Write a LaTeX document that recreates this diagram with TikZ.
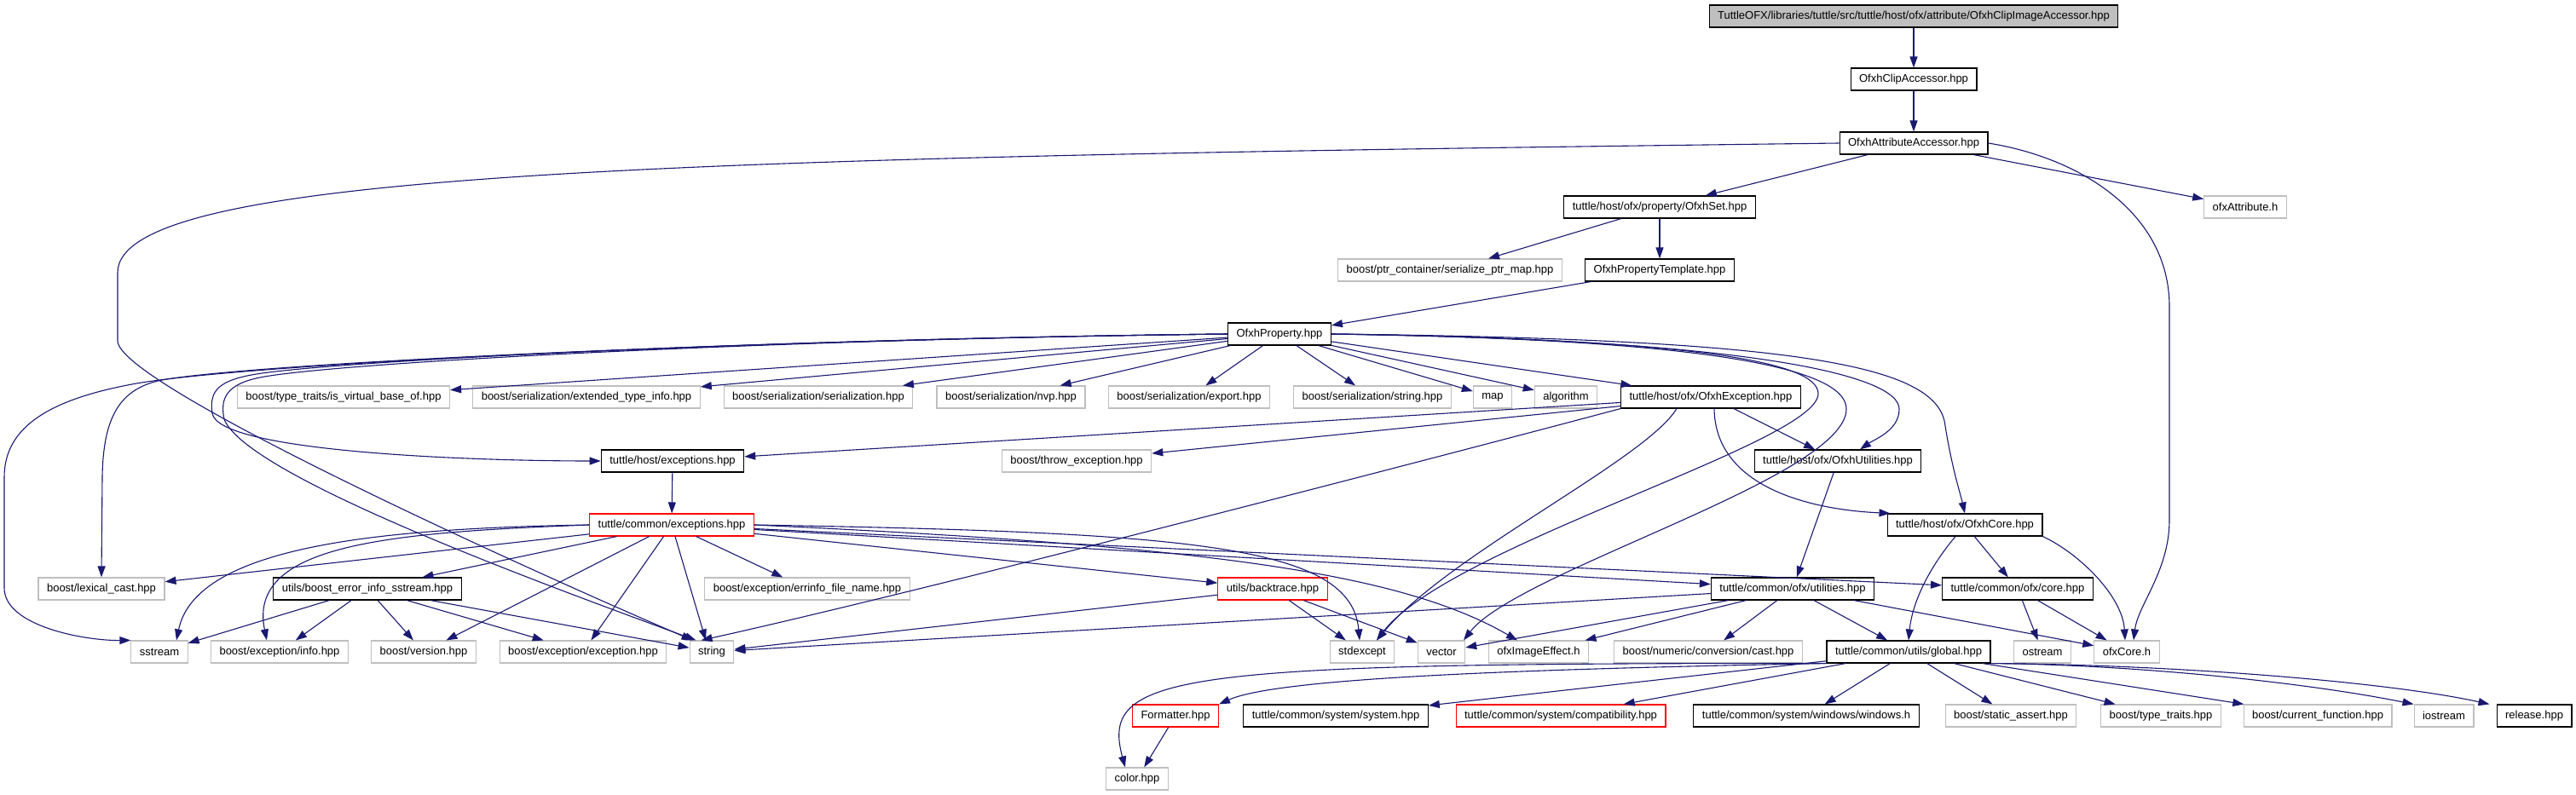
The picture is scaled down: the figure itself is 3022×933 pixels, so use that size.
\documentclass[tikz,border=0pt]{standalone}
\usepackage{fontspec}
\setmainfont{Liberation Sans}
\usetikzlibrary{arrows.meta}
\definecolor{edgecol}{HTML}{191970}
\definecolor{graybd}{HTML}{BFBFBF}
\definecolor{rootfill}{HTML}{BFBFBF}
\begin{document}
\begin{tikzpicture}[x=1pt,y=-1pt,
  nb/.style={draw=black,fill=white,line width=1.1pt,minimum height=26pt,inner xsep=10pt,inner ysep=0pt,font=\fontsize{13}{15}\selectfont},
  ng/.style={nb,draw=graybd},
  nr/.style={nb,draw=red},
  edge/.style={draw=edgecol,line width=1.1pt,-{Triangle[length=13pt,width=9pt]}}]
\useasboundingbox (0,0) rectangle (3022,933);
% row 0-5
\node[nb,fill=rootfill] (root) at (2245,19) {TuttleOFX/libraries/tuttle/src/tuttle/host/ofx/attribute/OfxhClipImageAccessor.hpp};
\node[nb] (clip) at (2245,93) {OfxhClipAccessor.hpp};
\node[nb] (aa) at (2245,168) {OfxhAttributeAccessor.hpp};
\node[nb] (set) at (1947,243) {tuttle/host/ofx/property/OfxhSet.hpp};
\node[ng] (ofxattr) at (2634,243) {ofxAttribute.h};
\node[ng] (ptrmap) at (1701,317) {boost/ptr\_container/serialize\_ptr\_map.hpp};
\node[nb] (ptmpl) at (1947,317) {OfxhPropertyTemplate.hpp};
\node[nb] (prop) at (1501,392) {OfxhProperty.hpp};
% row 6
\node[ng] (isvb) at (403,466) {boost/type\_traits/is\_virtual\_base\_of.hpp};
\node[ng] (exti) at (688,466) {boost/serialization/extended\_type\_info.hpp};
\node[ng] (ser) at (960,466) {boost/serialization/serialization.hpp};
\node[ng] (nvp) at (1186,466) {boost/serialization/nvp.hpp};
\node[ng] (exp) at (1395,466) {boost/serialization/export.hpp};
\node[ng] (sstr) at (1610,466) {boost/serialization/string.hpp};
\node[ng] (map) at (1751,466) {map};
\node[ng] (algo) at (1837,466) {algorithm};
\node[nb] (ofxhexc) at (2007,466) {tuttle/host/ofx/OfxhException.hpp};
% row 7
\node[nb] (hexc) at (789,541) {tuttle/host/exceptions.hpp};
\node[ng] (throw) at (1263,541) {boost/throw\_exception.hpp};
\node[nb] (ofxhutil) at (2156,541) {tuttle/host/ofx/OfxhUtilities.hpp};
% row 8
\node[nr] (cexc) at (788,616) {tuttle/common/exceptions.hpp};
\node[nb] (ofxhcore) at (2305,616) {tuttle/host/ofx/OfxhCore.hpp};
% row 9
\node[ng] (lex) at (119,691) {boost/lexical\_cast.hpp};
\node[nb] (bei) at (431,691) {utils/boost\_error\_info\_sstream.hpp};
\node[ng] (errinfo) at (947,691) {boost/exception/errinfo\_file\_name.hpp};
\node[nr] (bt) at (1493,691) {utils/backtrace.hpp};
\node[nb] (cutil) at (2103,691) {tuttle/common/ofx/utilities.hpp};
\node[nb] (ccore) at (2367,691) {tuttle/common/ofx/core.hpp};
% row 10
\node[ng] (sstream) at (187,765) {sstream};
\node[ng] (info) at (328,765) {boost/exception/info.hpp};
\node[ng] (ver) at (497,765) {boost/version.hpp};
\node[ng] (bexc) at (684,765) {boost/exception/exception.hpp};
\node[ng] (str) at (835,765) {string};
\node[ng] (stdexc) at (1598,765) {stdexcept};
\node[ng] (vec) at (1691,765) {vector};
\node[ng] (ofxie) at (1805,765) {ofxImageEffect.h};
\node[ng] (numcast) at (2004,765) {boost/numeric/conversion/cast.hpp};
\node[nb] (glob) at (2239,765) {tuttle/common/utils/global.hpp};
\node[ng] (ostream) at (2396,765) {ostream};
\node[ng] (ofxcore) at (2495,765) {ofxCore.h};
% row 11
\node[nr] (fmt) at (1379,840) {Formatter.hpp};
\node[nb] (sys) at (1567,840) {tuttle/common/system/system.hpp};
\node[nr] (compat) at (1831,840) {tuttle/common/system/compatibility.hpp};
\node[nb] (win) at (2119,840) {tuttle/common/system/windows/windows.h};
\node[ng] (sassert) at (2359,840) {boost/static\_assert.hpp};
\node[ng] (ttraits) at (2535,840) {boost/type\_traits.hpp};
\node[ng] (curfn) at (2719,840) {boost/current\_function.hpp};
\node[ng] (iostr) at (2867,840) {iostream};
\node[nb] (rel) at (2973,840) {release.hpp};
% row 12
\node[ng] (color) at (1334,914) {color.hpp};

% edges top
\draw[edge] (root) -- (clip);
\draw[edge] (clip) -- (aa);
\draw[edge] (aa) -- (set);
\draw[edge] (aa) -- (ofxattr);
\draw[edge] (aa.east) .. controls (2440,185) and (2545,250) .. (2545,360) -- (2545,610) .. controls (2545,670) and (2508,710) .. ([xshift=8pt]ofxcore.north);
\draw[edge] (aa.west) .. controls (800,185) and (138,200) .. (138,320) -- (138,400) .. controls (138,450) and (600,660) .. ([xshift=4pt]str.north west);
\draw[edge] (set) -- (ptrmap);
\draw[edge] (set) -- (ptmpl);
\draw[edge] (ptmpl) -- (prop);
% OfxhProperty, left bundle
\draw[edge] (prop.west) .. controls (900,398) and (300,426) .. (160,450) .. controls (60,468) and (5,500) .. (5,560) -- (5,690) .. controls (5,735) and (100,752) .. (sstream.north west);
\draw[edge] (prop.west) .. controls (900,398) and (300,426) .. (190,446) .. controls (140,456) and (121,490) .. (120,560) -- (lex.north);
\draw[edge] (prop.west) .. controls (900,398) and (380,424) .. (295,440) .. controls (252,448) and (246,462) .. (249,485) .. controls (256,530) and (550,541) .. (hexc.west);
\draw[edge] (prop.west) .. controls (900,398) and (390,426) .. (305,443) .. controls (265,451) and (258,468) .. (263,492) .. controls (290,560) and (650,690) .. ([xshift=8pt]str.north west);
\draw[edge] (prop) -- (isvb);
\draw[edge] (prop) -- (exti);
\draw[edge] (prop) -- (ser);
\draw[edge] (prop) -- (nvp);
\draw[edge] (prop) -- (exp);
\draw[edge] (prop) -- (sstr);
\draw[edge] (prop) -- (map);
\draw[edge] (prop) -- (algo);
\draw[edge] (prop) -- (ofxhexc);
% OfxhProperty, right curves
\draw[edge] (prop.east) .. controls (1950,398) and (2133,420) .. (2133,462) .. controls (2133,520) and (1700,640) .. ([xshift=17pt]stdexc.north);
\draw[edge] (prop.east) .. controls (1990,398) and (2166,430) .. (2166,480) .. controls (2166,560) and (1780,670) .. ([xshift=26pt]vec.north);
\draw[edge] (prop.east) .. controls (2050,398) and (2228,440) .. (2228,480) .. controls (2228,505) and (2200,515) .. ([xshift=26pt]ofxhutil.north);
\draw[edge] (prop.east) .. controls (2120,398) and (2275,430) .. (2282,500) .. controls (2290,550) and (2300,580) .. (ofxhcore.north);
% OfxhException
\draw[edge] (ofxhexc) -- (hexc);
\draw[edge] (ofxhexc) -- (throw);
\draw[edge] (ofxhexc) -- (ofxhutil);
\draw[edge] ([xshift=4pt]ofxhexc.south) .. controls (2012,570) and (2120,598) .. ([xshift=4pt]ofxhcore.north west);
\draw[edge] ([xshift=-40pt]ofxhexc.south) .. controls (1930,540) and (1700,650) .. ([xshift=17pt]stdexc.north);
\draw[edge] (ofxhexc.south west) .. controls (1750,520) and (1100,690) .. ([xshift=14pt]str.north west);
% mid
\draw[edge] (hexc) -- (cexc);
\draw[edge] (ofxhutil) -- (cutil);
\draw[edge] (ofxhcore) -- (ccore);
\draw[edge] ([xshift=-11pt]ofxhcore.south) .. controls (2260,670) and (2243,710) .. (glob.north);
\draw[edge] (ofxhcore.south east) .. controls (2440,650) and (2490,700) .. ([xshift=-2pt]ofxcore.north);
\draw[edge] (ccore) -- (ostream);
\draw[edge] (ccore) -- (ofxcore);
% common exceptions
\draw[edge] (cexc) -- (lex);
\draw[edge] (cexc) -- (bei);
\draw[edge] (cexc) -- (errinfo);
\draw[edge] (cexc) -- (bt);
\draw[edge] (cexc) -- (cutil);
\draw[edge] (cexc) -- (ccore);
\draw[edge] (cexc.east) .. controls (1400,640) and (1640,670) .. ([xshift=-25pt]ofxie.north);
\draw[edge] (cexc.east) .. controls (1400,625) and (1585,640) .. ([xshift=-3pt]stdexc.north);
\draw[edge] (cexc.west) .. controls (450,620) and (230,640) .. ([xshift=20pt]sstream.north);
\draw[edge] (cexc.west) .. controls (450,625) and (290,640) .. ([xshift=-15pt]info.north);
\draw[edge] (cexc) -- (ver);
\draw[edge] (cexc) -- (bexc);
\draw[edge] (cexc) -- ([xshift=-7pt]str.north);
% boost_error_info_sstream
\draw[edge] (bei) -- (sstream);
\draw[edge] (bei) -- (info);
\draw[edge] (bei) -- (ver);
\draw[edge] (bei) -- (bexc);
\draw[edge] (bei) -- (str);
% backtrace
\draw[edge] (bt) -- (str);
\draw[edge] (bt) -- (stdexc);
\draw[edge] (bt) -- (vec);
% common ofx utilities
\draw[edge] (cutil) -- (str);
\draw[edge] (cutil) -- (vec);
\draw[edge] (cutil) -- (ofxie);
\draw[edge] (cutil) -- (numcast);
\draw[edge] (cutil) -- (glob);
\draw[edge] (cutil) -- (ofxcore);
% global
\draw[edge] (glob.south west) .. controls (1380,778) and (1290,790) .. ([xshift=-14pt]color.north);
\draw[edge] (glob.south west) .. controls (1800,785) and (1500,795) .. (fmt.north east);
\draw[edge] (glob) -- (sys);
\draw[edge] (glob) -- (compat);
\draw[edge] (glob) -- (win);
\draw[edge] (glob) -- (sassert);
\draw[edge] (glob) -- (ttraits);
\draw[edge] (glob) -- (curfn);
\draw[edge] (glob.south east) .. controls (2500,780) and (2700,800) .. (iostr.north west);
\draw[edge] (glob.south east) .. controls (2550,780) and (2800,800) .. ([xshift=-8pt]rel.north west);
\draw[edge] (fmt) -- (color);
\end{tikzpicture}
\end{document}
